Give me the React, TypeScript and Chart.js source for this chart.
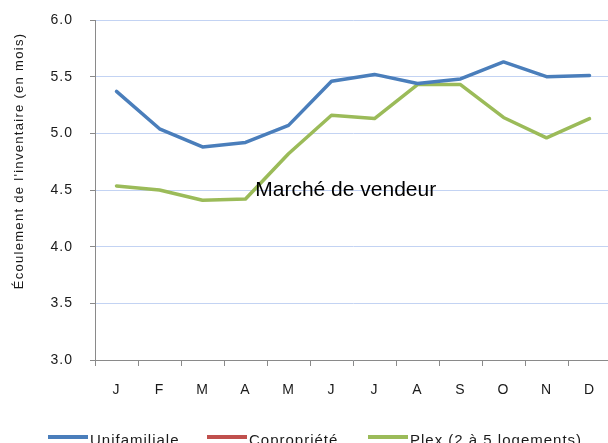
import React, { useEffect, useRef } from "react";
import { Chart, registerables } from "chart.js";

Chart.register(...registerables);

const months = ["J", "F", "M", "A", "M", "J", "J", "A", "S", "O", "N", "D"];
const unifamiliale = [5.37, 5.04, 4.88, 4.92, 5.07, 5.46, 5.52, 5.44, 5.48, 5.63, 5.5, 5.51];
const copropriete: (number | null)[] = [null, null, null, null, null, null, null, null, null, null, null, null];
const plex = [4.535, 4.5, 4.41, 4.42, 4.82, 5.16, 5.13, 5.43, 5.43, 5.14, 4.96, 5.13];
const seriesLabels = ["Unifamiliale", "Copropriété", "Plex (2 à 5 logements)"];
const seriesColors = ["#4a7ebb", "#c0504d", "#9bbb59"];
const yTitle = "Écoulement de l'inventaire (en mois)";
const annotationText = "Marché de vendeur";
const annotationAt = { x: 5.33, y: 4.45 };
const yMin = 3;
const yMax = 6;
const yStep = 0.5;

const FONT = '"Liberation Sans", Arial, sans-serif';

const overlay = {
  id: "overlay",
  beforeDraw(chart: any) {
    chart.ctx.letterSpacing = "1px";
  },
  afterDraw(chart: any) {
    const ctx = chart.ctx as CanvasRenderingContext2D;
    const xs = chart.scales.x;
    const ys = chart.scales.y;
    ctx.save();
    // annotation text
    (ctx as any).letterSpacing = "0px";
    ctx.font = `21px ${FONT}`;
    ctx.fillStyle = "#000";
    ctx.textAlign = "center";
    ctx.textBaseline = "alphabetic";
    ctx.fillText(annotationText, xs.getPixelForValue(annotationAt.x), ys.getPixelForValue(annotationAt.y));
    // y title
    ctx.save();
    (ctx as any).letterSpacing = "1.3px";
    ctx.font = `13px ${FONT}`;
    ctx.fillStyle = "#1a1a1a";
    ctx.translate(19, 161);
    ctx.rotate(-Math.PI / 2);
    ctx.textAlign = "center";
    ctx.textBaseline = "middle";
    ctx.fillText(yTitle, 0, 0);
    ctx.restore();
    // legend
    const legendX = [48, 207, 368];
    const ly = 437;
    (ctx as any).letterSpacing = "1px";
    ctx.font = `15px ${FONT}`;
    ctx.textAlign = "left";
    ctx.textBaseline = "middle";
    chart.data.datasets.forEach((ds: any, i: number) => {
      const x0 = legendX[i];
      ctx.strokeStyle = ds.borderColor;
      ctx.lineWidth = 4;
      ctx.lineCap = "butt";
      ctx.beginPath();
      ctx.moveTo(x0, ly);
      ctx.lineTo(x0 + 40, ly);
      ctx.stroke();
      ctx.fillStyle = "#1a1a1a";
      ctx.fillText(ds.label, x0 + 42, ly + 4);
    });
    ctx.restore();
  },
};

export default function App() {
  const ref = useRef<HTMLCanvasElement | null>(null);
  useEffect(() => {
    if (!ref.current) return;
    const chart = new Chart(ref.current, {
      type: "line",
      data: {
        labels: months,
        datasets: [
          { label: seriesLabels[0], data: unifamiliale, borderColor: seriesColors[0], backgroundColor: seriesColors[0] },
          { label: seriesLabels[1], data: copropriete, borderColor: seriesColors[1], backgroundColor: seriesColors[1] },
          { label: seriesLabels[2], data: plex, borderColor: seriesColors[2], backgroundColor: seriesColors[2] },
        ],
      },
      options: {
        responsive: false,
        animation: false,
        devicePixelRatio: 1,
        font: { family: FONT },
        elements: {
          line: { borderWidth: 3.5, tension: 0, borderJoinStyle: "round", borderCapStyle: "round" },
          point: { radius: 0 },
        },
        layout: { padding: { top: 20, right: 9, bottom: 0, left: 0 } },
        plugins: { legend: { display: false }, tooltip: { enabled: false } },
        scales: {
          x: {
            offset: true,
            grid: { drawOnChartArea: false, offset: true, tickLength: 6, tickColor: "#8a8a8a" },
            border: { color: "#8a8a8a", width: 1 },
            ticks: { autoSkip: false, maxRotation: 0, padding: 16, color: "#1a1a1a", font: { size: 14, family: FONT } },
            afterFit(s: any) {
              s.height = 83;
              s.paddingLeft = 0;
              s.paddingRight = 0;
            },
          },
          y: {
            min: yMin,
            max: yMax,
            grid: { color: "#c3d3f3", tickLength: 5, tickColor: "#8a8a8a" },
            border: { color: "#8a8a8a", width: 1 },
            ticks: {
              stepSize: yStep,
              padding: 17,
              color: "#1a1a1a",
              font: { size: 14, family: FONT },
              callback: (v: any) => Number(v).toFixed(1),
            },
            afterFit(s: any) {
              s.width = 95;
              s.paddingTop = 0;
              s.paddingBottom = 0;
            },
          },
        },
      },
      plugins: [overlay],
    } as any);
    return () => chart.destroy();
  }, []);
  return (
    <div style={{ position: "fixed", left: 0, top: 0, width: 608, height: 443, overflow: "hidden", background: "#fff" }}>
      <canvas ref={ref} width={620} height={443} style={{ display: "block", width: 620, height: 443 }} />
    </div>
  );
}
